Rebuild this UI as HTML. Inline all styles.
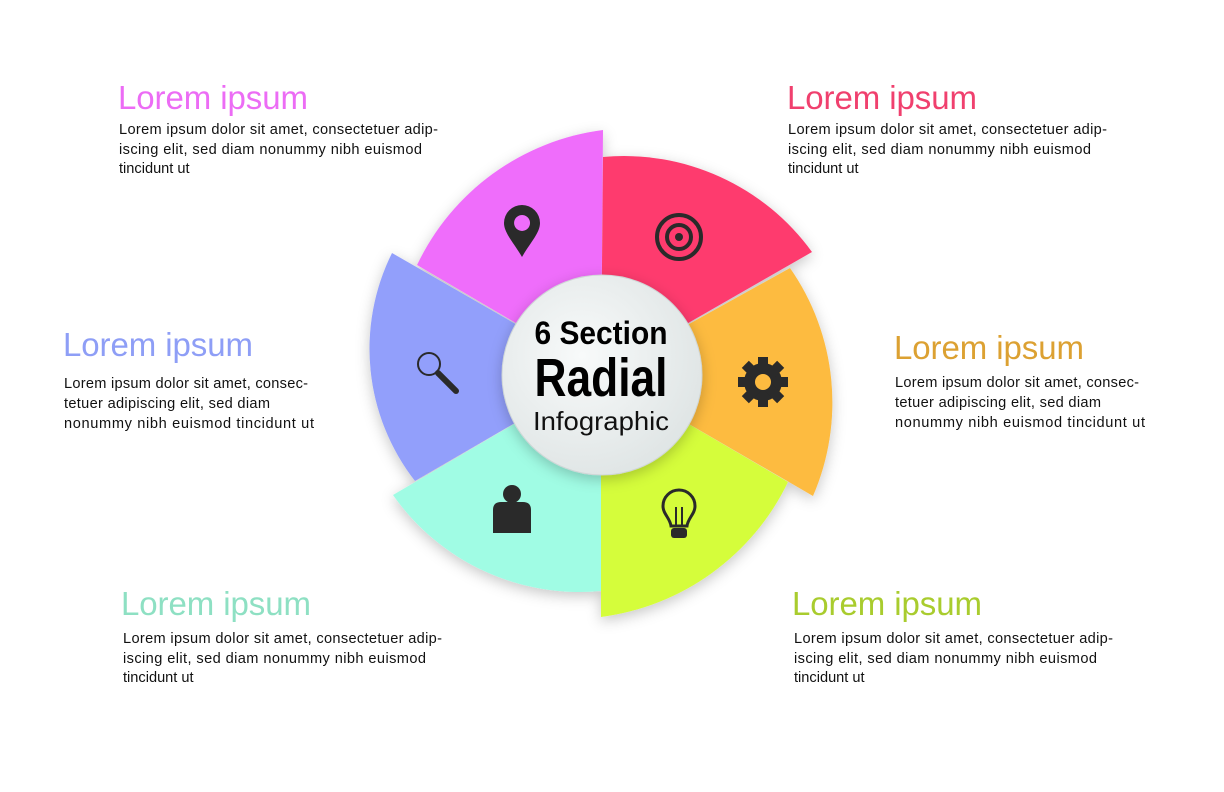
<!DOCTYPE html>
<html><head><meta charset="utf-8"><style>
html,body{margin:0;padding:0;background:#fff;}
svg{display:block;font-family:"Liberation Sans",sans-serif;}
.b{font-size:14.6px;fill:#111;}
.t{font-size:33px;}
</style></head><body>
<svg width="1224" height="792" viewBox="0 0 1224 792">
<defs>
<filter id="sh" x="-30%" y="-30%" width="160%" height="160%"><feDropShadow dx="0" dy="4" stdDeviation="7" flood-color="#000" flood-opacity="0.22"/></filter>
<radialGradient id="cg" cx="40%" cy="40%" r="70%"><stop offset="0" stop-color="#f8fafa"/><stop offset="1" stop-color="#dde3e3"/></radialGradient>
</defs>
<g filter="url(#sh)">
<path d="M601,373 L393,495 A228,228 0 0 0 601,591 Z" fill="#a0fce4"/>
<path d="M601,373 L415,481 A215,215 0 0 1 392,253 Z" fill="#929ffb"/>
<path d="M601,373 L417,265 A240,240 0 0 1 603,130 Z" fill="#ef6dfb"/>
<path d="M601,373 L603,157 A232,232 0 0 1 812,252 Z" fill="#fe3a6e"/>
<path d="M601,373 L790,268 A235,235 0 0 1 813,496 Z" fill="#fdbb40"/>
<path d="M601,373 L788,482 A242,242 0 0 1 601,617 Z" fill="#d5fd3a"/>
</g>
<circle cx="602" cy="375" r="100" fill="url(#cg)" stroke="#cfd6d6" stroke-width="1" filter="url(#sh)"/>
<text x="601" y="344" text-anchor="middle" font-weight="bold" font-size="32" fill="#000" textLength="133" lengthAdjust="spacingAndGlyphs">6 Section</text>
<text x="601" y="396" text-anchor="middle" font-weight="bold" font-size="54" fill="#000" textLength="133" lengthAdjust="spacingAndGlyphs">Radial</text>
<text x="601" y="430" text-anchor="middle" font-size="26" fill="#111" textLength="136" lengthAdjust="spacingAndGlyphs">Infographic</text>
<g fill="#2a2a2a">
<path d="M522,205 a18,18 0 0 1 18,18 c0,10 -10,20 -18,34 c-8,-14 -18,-24 -18,-34 a18,18 0 0 1 18,-18 Z M522,215 a8,8 0 1 0 0.1,0 Z" fill-rule="evenodd"/>
<circle cx="679" cy="237" r="22" fill="none" stroke="#2a2a2a" stroke-width="4"/>
<circle cx="679" cy="237" r="12" fill="none" stroke="#2a2a2a" stroke-width="4"/>
<circle cx="679" cy="237" r="4"/>
<circle cx="763" cy="382" r="19"/>
<g transform="translate(763,382)"><rect x="-5" y="-25" width="10" height="50"/><rect x="-5" y="-25" width="10" height="50" transform="rotate(45)"/><rect x="-5" y="-25" width="10" height="50" transform="rotate(90)"/><rect x="-5" y="-25" width="10" height="50" transform="rotate(135)"/></g>
<circle cx="763" cy="382" r="8" fill="#fdbb40"/>
<circle cx="429" cy="364" r="11" fill="none" stroke="#2a2a2a" stroke-width="2"/>
<line x1="438" y1="373" x2="456" y2="391" stroke="#2a2a2a" stroke-width="6" stroke-linecap="round"/>
<circle cx="512" cy="494" r="9"/>
<path d="M493,533 L493,510 q0,-8 8,-8 L523,502 q8,0 8,8 L531,533 Z"/>
<path d="M679,490 a16,16 0 0 1 16,16 c0,8 -7,12 -8,20 l-16,0 c-1,-8 -8,-12 -8,-20 a16,16 0 0 1 16,-16 Z" fill="none" stroke="#2a2a2a" stroke-width="3"/>
<rect x="671" y="528" width="16" height="10" rx="3"/>
<line x1="676" y1="526" x2="676" y2="507" stroke="#2a2a2a" stroke-width="2"/><line x1="682" y1="526" x2="682" y2="507" stroke="#2a2a2a" stroke-width="2"/>
</g>
<text class="t" x="118" y="109" fill="#ec6cf5" textLength="190">Lorem ipsum</text>
<text class="b" x="119" y="134" textLength="319">Lorem ipsum dolor sit amet, consectetuer adip-</text>
<text class="b" x="119" y="154" textLength="303">iscing elit, sed diam nonummy nibh euismod</text>
<text class="b" x="119" y="173">tincidunt ut</text>

<text class="t" x="787" y="109" fill="#f0406e" textLength="190">Lorem ipsum</text>
<text class="b" x="788" y="134" textLength="319">Lorem ipsum dolor sit amet, consectetuer adip-</text>
<text class="b" x="788" y="154" textLength="303">iscing elit, sed diam nonummy nibh euismod</text>
<text class="b" x="788" y="173">tincidunt ut</text>

<text class="t" x="63" y="356" fill="#8e9ef6" textLength="190">Lorem ipsum</text>
<text class="b" x="64" y="388" textLength="244">Lorem ipsum dolor sit amet, consec-</text>
<text class="b" x="64" y="408" textLength="206">tetuer adipiscing elit, sed diam</text>
<text class="b" x="64" y="428" textLength="250">nonummy nibh euismod tincidunt ut</text>

<text class="t" x="894" y="359" fill="#dca132" textLength="190">Lorem ipsum</text>
<text class="b" x="895" y="387" textLength="244">Lorem ipsum dolor sit amet, consec-</text>
<text class="b" x="895" y="407" textLength="206">tetuer adipiscing elit, sed diam</text>
<text class="b" x="895" y="427" textLength="250">nonummy nibh euismod tincidunt ut</text>

<text class="t" x="121" y="615" fill="#8ee0c3" textLength="190">Lorem ipsum</text>
<text class="b" x="123" y="643" textLength="319">Lorem ipsum dolor sit amet, consectetuer adip-</text>
<text class="b" x="123" y="663" textLength="303">iscing elit, sed diam nonummy nibh euismod</text>
<text class="b" x="123" y="682">tincidunt ut</text>

<text class="t" x="792" y="615" fill="#a9cc2e" textLength="190">Lorem ipsum</text>
<text class="b" x="794" y="643" textLength="319">Lorem ipsum dolor sit amet, consectetuer adip-</text>
<text class="b" x="794" y="663" textLength="303">iscing elit, sed diam nonummy nibh euismod</text>
<text class="b" x="794" y="682">tincidunt ut</text>
</svg>
</body></html>
